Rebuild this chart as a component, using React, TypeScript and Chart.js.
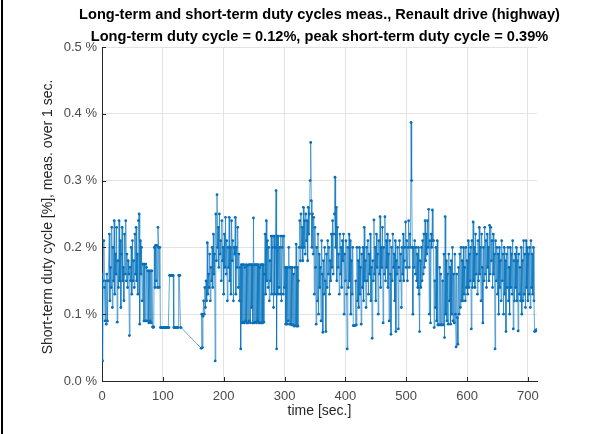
import React, { useEffect, useRef } from "react";
import { Chart, registerables } from "chart.js";

Chart.register(...registerables);

const titleLines = [
  "Long-term and short-term duty cycles meas., Renault drive (highway)",
  "Long-term duty cycle = 0.12%, peak short-term duty cycle = 0.39%",
];
const xAxisTitle = "time [sec.]";
const yAxisTitle = "Short-term duty cycle [%], meas. over 1 sec.";
const xTicks = [0, 100, 200, 300, 400, 500, 600, 700];
const yTicks = [0, 0.1, 0.2, 0.3, 0.4, 0.5];

// first recorded block: starts at t = 0 s, one value per second (%)
const segAStart = 0;
const segAValues = [
  0.16, 0.03, 0.15, 0.21, 0.14, 0.09, 0.15, 0.085, 0.16, 0.09,
  0.15, 0.15, 0.22, 0.12, 0.17, 0.14, 0.23, 0.11, 0.2, 0.15,
  0.24, 0.13, 0.19, 0.16, 0.23, 0.088, 0.18, 0.14, 0.24, 0.15,
  0.21, 0.11, 0.19, 0.23, 0.15, 0.17, 0.12, 0.22, 0.16, 0.24,
  0.15, 0.19, 0.14, 0.18, 0.16, 0.068, 0.17, 0.15, 0.2, 0.13,
  0.21, 0.15, 0.18, 0.14, 0.22, 0.16, 0.23, 0.15, 0.19, 0.13,
  0.24, 0.25, 0.085, 0.21, 0.16, 0.2, 0.12, 0.175, 0.175, 0.09,
  0.175, 0.09, 0.175, 0.17, 0.09, 0.165, 0.165, 0.087, 0.165, 0.09,
  0.165, 0.087, 0.165, 0.081, 0.08, 0.081, 0.2, 0.14, 0.203, 0.15,
  0.203, 0.14, 0.23, 0.2, 0.14, 0.2, 0.08, 0.08, 0.08, 0.08,
  0.08, 0.08, 0.08, 0.08, 0.08, 0.08, 0.08, 0.08, 0.08, 0.08,
  0.08, 0.158, 0.158, 0.158, 0.158, 0.158, 0.158, 0.158, 0.08, 0.08,
  0.08, 0.08, 0.08, 0.08, 0.08, 0.08, 0.158, 0.158, 0.158, 0.08,
  0.08,
];

// second recorded block: starts at t = 163 s, one value per second (%)
const segBStart = 163;
const segBValues = [
  0.049, 0.1, 0.05, 0.097, 0.12, 0.1, 0.14, 0.11, 0.15, 0.12,
  0.207, 0.13, 0.16, 0.14, 0.19, 0.12, 0.17, 0.15, 0.2, 0.14,
  0.22, 0.16, 0.19, 0.03, 0.25, 0.18, 0.279, 0.2, 0.23, 0.17,
  0.25, 0.19, 0.21, 0.15, 0.24, 0.18, 0.2, 0.13, 0.22, 0.17,
  0.245, 0.16, 0.21, 0.12, 0.2, 0.17, 0.245, 0.15, 0.2, 0.13,
  0.24, 0.18, 0.21, 0.12, 0.2, 0.19, 0.245, 0.13, 0.2, 0.17,
  0.23, 0.14, 0.19, 0.12, 0.17, 0.048, 0.174, 0.087, 0.174, 0.088,
  0.174, 0.087, 0.17, 0.09, 0.174, 0.087, 0.173, 0.087, 0.174, 0.09,
  0.174, 0.087, 0.174, 0.11, 0.174, 0.087, 0.244, 0.087, 0.174, 0.088,
  0.174, 0.087, 0.174, 0.09, 0.174, 0.087, 0.17, 0.087, 0.174, 0.087,
  0.174, 0.087, 0.174, 0.088, 0.16, 0.22, 0.13, 0.24, 0.15, 0.21,
  0.14, 0.2, 0.12, 0.18, 0.15, 0.217, 0.13, 0.2, 0.217, 0.11,
  0.217, 0.13, 0.2, 0.285, 0.048, 0.217, 0.13, 0.217, 0.14, 0.2,
  0.13, 0.217, 0.12, 0.2, 0.217, 0.13, 0.217, 0.14, 0.17, 0.085,
  0.17, 0.085, 0.17, 0.09, 0.2, 0.085, 0.17, 0.085, 0.17, 0.084,
  0.17, 0.084, 0.16, 0.082, 0.17, 0.083, 0.205, 0.082, 0.17, 0.082,
  0.15, 0.2, 0.24, 0.18, 0.25, 0.2, 0.23, 0.18, 0.26, 0.2,
  0.24, 0.19, 0.25, 0.21, 0.24, 0.18, 0.26, 0.22, 0.25, 0.3,
  0.357, 0.27, 0.2, 0.25, 0.19, 0.245, 0.13, 0.23, 0.17, 0.085,
  0.2, 0.12, 0.22, 0.1, 0.19, 0.14, 0.17, 0.09, 0.21, 0.16,
  0.073, 0.18, 0.13, 0.2, 0.15, 0.074, 0.19, 0.14, 0.21, 0.16,
  0.2, 0.13, 0.18, 0.15, 0.22, 0.17, 0.24, 0.16, 0.22, 0.25,
  0.305, 0.2, 0.26, 0.15, 0.23, 0.17, 0.19, 0.13, 0.22, 0.16,
  0.2, 0.14, 0.21, 0.18, 0.22, 0.1, 0.19, 0.15, 0.21, 0.13,
  0.048, 0.2, 0.14, 0.22, 0.15, 0.21, 0.1, 0.18, 0.13, 0.2,
  0.083, 0.083, 0.083, 0.083, 0.15, 0.084, 0.2, 0.12, 0.18, 0.11,
  0.2, 0.13, 0.17, 0.085, 0.19, 0.14, 0.2, 0.12, 0.23, 0.15,
  0.18, 0.11, 0.2, 0.15, 0.21, 0.13, 0.19, 0.16, 0.22, 0.12,
  0.17, 0.064, 0.18, 0.15, 0.241, 0.16, 0.2, 0.12, 0.22, 0.17,
  0.19, 0.1, 0.21, 0.16, 0.246, 0.14, 0.2, 0.17, 0.23, 0.087,
  0.2, 0.16, 0.246, 0.15, 0.21, 0.17, 0.22, 0.14, 0.19, 0.09,
  0.21, 0.16, 0.07, 0.2, 0.15, 0.22, 0.17, 0.19, 0.12, 0.21,
  0.074, 0.18, 0.16, 0.2, 0.078, 0.17, 0.21, 0.15, 0.19, 0.11,
  0.2, 0.16, 0.22, 0.15, 0.18, 0.2, 0.238, 0.17, 0.21, 0.15,
  0.2, 0.24, 0.17, 0.22, 0.2, 0.387, 0.3, 0.2, 0.1, 0.2,
  0.17, 0.21, 0.16, 0.2, 0.15, 0.19, 0.14, 0.2, 0.13, 0.074,
  0.18, 0.14, 0.2, 0.15, 0.21, 0.16, 0.22, 0.17, 0.24, 0.18,
  0.22, 0.19, 0.24, 0.2, 0.257, 0.1, 0.21, 0.087, 0.22, 0.2,
  0.256, 0.21, 0.21, 0.08, 0.15, 0.11, 0.2, 0.09, 0.21, 0.084,
  0.084, 0.084, 0.17, 0.084, 0.16, 0.084, 0.084, 0.15, 0.084, 0.19,
  0.065, 0.246, 0.1, 0.18, 0.09, 0.16, 0.085, 0.19, 0.12, 0.17,
  0.085, 0.18, 0.1, 0.2, 0.09, 0.16, 0.087, 0.19, 0.1, 0.051,
  0.16, 0.095, 0.055, 0.17, 0.1, 0.19, 0.11, 0.2, 0.12, 0.18,
  0.12, 0.2, 0.13, 0.17, 0.12, 0.2, 0.14, 0.18, 0.13, 0.21,
  0.14, 0.19, 0.15, 0.2, 0.078, 0.21, 0.14, 0.238, 0.15, 0.2,
  0.14, 0.22, 0.16, 0.19, 0.13, 0.21, 0.15, 0.23, 0.16, 0.2,
  0.12, 0.22, 0.17, 0.087, 0.2, 0.15, 0.23, 0.16, 0.21, 0.14,
  0.22, 0.17, 0.2, 0.15, 0.233, 0.16, 0.23, 0.18, 0.21, 0.14,
  0.22, 0.16, 0.19, 0.048, 0.21, 0.15, 0.2, 0.13, 0.19, 0.1,
  0.2, 0.14, 0.18, 0.12, 0.21, 0.15, 0.19, 0.1, 0.2, 0.13,
  0.18, 0.074, 0.19, 0.14, 0.2, 0.12, 0.17, 0.1, 0.2, 0.14,
  0.19, 0.13, 0.21, 0.078, 0.18, 0.12, 0.19, 0.14, 0.2, 0.12,
  0.18, 0.075, 0.19, 0.13, 0.17, 0.12, 0.2, 0.1, 0.18, 0.12,
  0.21, 0.13, 0.19, 0.11, 0.21, 0.14, 0.2, 0.12, 0.19, 0.13,
  0.2, 0.11, 0.21, 0.14, 0.19, 0.13, 0.2, 0.12, 0.074, 0.075,
  0.075, 0.077,
];

const FONT = "'Liberation Sans', Arial, Helvetica, sans-serif";
const AXIS_COLOR = "#262626";
const TICK_TEXT = "#4a4a4a";
const GRID_COLOR = "#e3e3e3";
const LINE_COLOR = "rgba(0, 114, 189, 0.8)";
const POINT_COLOR = "#0a6fb8";

export default function App() {
  const ref = useRef<HTMLCanvasElement | null>(null);

  useEffect(() => {
    const canvas = ref.current;
    if (!canvas) return;

    const points = [
      ...segAValues.map((v, i) => ({ x: segAStart + i, y: v })),
      ...segBValues.map((v, i) => ({ x: segBStart + i, y: v })),
    ];

    const decorPlugin = {
      id: "decor",
      afterDraw(chart: any) {
        const { ctx, chartArea } = chart;
        const { left, right, top, bottom } = chartArea;
        const xs = chart.scales.x;
        const ys = chart.scales.y;
        ctx.save();
        // inward tick marks
        ctx.strokeStyle = AXIS_COLOR;
        ctx.lineWidth = 1;
        ctx.beginPath();
        for (const v of xTicks) {
          const px = Math.round(xs.getPixelForValue(v)) + 0.5;
          ctx.moveTo(px, bottom);
          ctx.lineTo(px, bottom - 4);
        }
        for (const v of yTicks) {
          const py = Math.round(ys.getPixelForValue(v)) + 0.5;
          ctx.moveTo(left, py);
          ctx.lineTo(left + 4, py);
        }
        ctx.stroke();
        // titles
        const cx = (left + right) / 2;
        ctx.fillStyle = "#000";
        ctx.textAlign = "center";
        ctx.textBaseline = "middle";
        ctx.font = `bold 14.6px ${FONT}`;
        ctx.fillText(titleLines[0], cx, top - 32);
        ctx.fillText(titleLines[1], cx, top - 10);
        ctx.fillStyle = AXIS_COLOR;
        ctx.font = `14px ${FONT}`;
        ctx.fillText(xAxisTitle, cx, bottom + 30);
        ctx.translate(left - 54, (top + bottom) / 2 + 3);
        ctx.rotate(-Math.PI / 2);
        ctx.fillText(yAxisTitle, 0, 0);
        ctx.restore();
      },
    };

    const chart = new Chart(canvas, {
      type: "line",
      data: {
        datasets: [
          {
            data: points,
            borderColor: LINE_COLOR,
            backgroundColor: POINT_COLOR,
            borderWidth: 0.75,
            pointRadius: 1.4,
            pointBorderWidth: 0,
            pointBackgroundColor: POINT_COLOR,
            pointHoverRadius: 0,
            fill: false,
            tension: 0,
          },
        ],
      },
      options: {
        animation: false,
        responsive: false,
        events: [],
        layout: { padding: { top: 47, right: 72, left: 0, bottom: 0 } },
        plugins: {
          legend: { display: false },
          title: { display: false },
          tooltip: { enabled: false },
        },
        scales: {
          x: {
            type: "linear",
            min: 0,
            max: 715,
            afterFit: (s: any) => {
              s.height = 53;
            },
            afterBuildTicks: (s: any) => {
              s.ticks = xTicks.map((v) => ({ value: v }));
            },
            ticks: {
              font: { family: FONT, size: 13 },
              color: TICK_TEXT,
              padding: 8,
              maxRotation: 0,
              autoSkip: false,
            },
            grid: { color: GRID_COLOR, drawTicks: false },
            border: { color: AXIS_COLOR, width: 1 },
          },
          y: {
            type: "linear",
            min: 0,
            max: 0.5,
            afterFit: (s: any) => {
              s.width = 102;
            },
            afterBuildTicks: (s: any) => {
              s.ticks = yTicks.map((v) => ({ value: v }));
            },
            ticks: {
              font: { family: FONT, size: 13 },
              color: TICK_TEXT,
              padding: 5,
              autoSkip: false,
              callback: (v: any) => `${Number(v).toFixed(1)} %`,
            },
            grid: { color: GRID_COLOR, drawTicks: false },
            border: { color: AXIS_COLOR, width: 1 },
          },
        },
      },
      plugins: [decorPlugin],
    });

    return () => chart.destroy();
  }, []);

  return (
    <div
      style={{
        position: "fixed",
        left: 0,
        top: 0,
        width: 609,
        height: 434,
        background: "#fff",
        overflow: "hidden",
      }}
    >
      <div
        style={{
          position: "absolute",
          left: 1,
          top: 0,
          width: 2,
          height: 434,
          background: "#000",
        }}
      />
      <canvas
        ref={ref}
        width={609}
        height={434}
        style={{ display: "block", width: 609, height: 434 }}
      />
    </div>
  );
}
